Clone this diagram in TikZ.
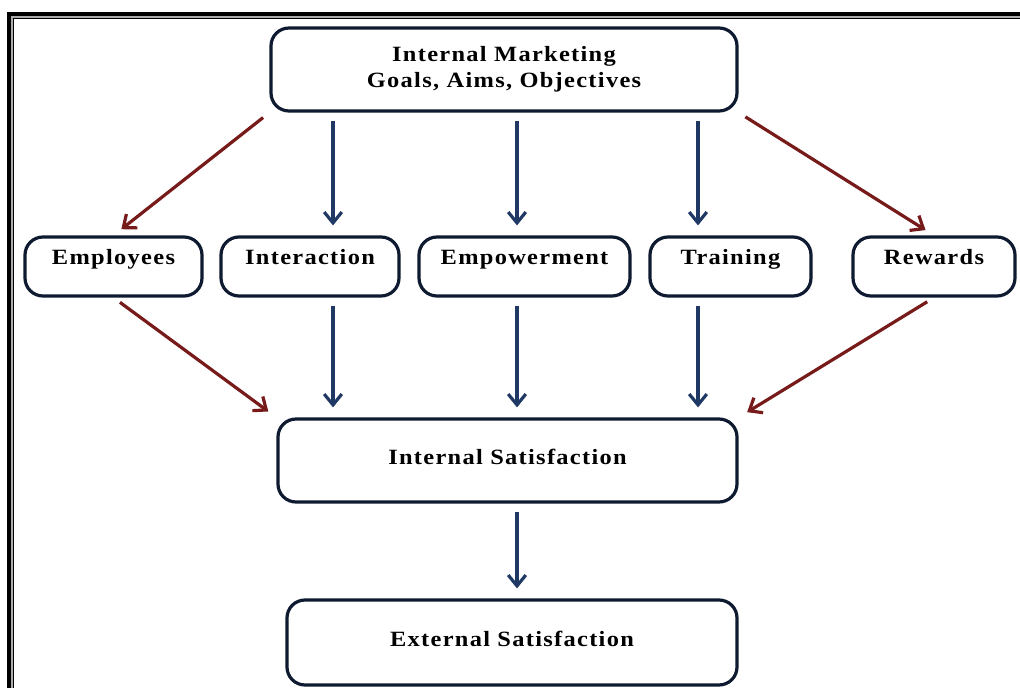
\documentclass[tikz,border=0pt]{standalone}
\usepackage{fontspec}
\setmainfont{Liberation Serif}[LetterSpace=6, FakeStretch=1.12]
\usepackage{xcolor}
\usetikzlibrary{arrows.meta, positioning}

\definecolor{boxline}{HTML}{0E1A30}
\definecolor{arrowblue}{HTML}{1F3864}
\definecolor{arrowred}{HTML}{761A1A}

\begin{document}
\begin{tikzpicture}[x=0.025cm, y=-0.025cm]
			\def\px{0.025cm}
			\def\rowY{266.5}

			\tikzset{
				box/.style = {draw = boxline, line width = 3.2*\px, rounded corners = 18*\px, align = center, font = \fontsize{15.5}{18.5}\selectfont\bfseries},
				smallbox/.style = {box, minimum height = 59*\px, text height = 0.3cm, text depth = 0.42cm},
				widebox/.style = {box, text height = 0.4cm, text depth = 0.2cm},
				link/.style = {line width = 3.2*\px, shorten <= 8*\px, shorten >= 10*\px, -{Straight Barb[length = 0.27cm, width = 0.44cm]}},
			}

			\useasboundingbox (0,0) rectangle (1020,688);

			\begin{scope}
				\draw [line width = 4*\px] (9,14.5) rectangle (1060,720);
				\draw [gray!65, line width = 2*\px] (12,17) rectangle (1060,720);
				\draw [line width = 1.3*\px] (13.8,18.6) rectangle (1060,720);
			\end{scope}

			\node [box, minimum width = 466*\px, minimum height = 83*\px] (goals) at (504,69.5) {Internal Marketing\\Goals, Aims, Objectives};

			\foreach \nm/\cx/\bw/\txt in {employees/113.5/177/Employees, interaction/310/178/Interaction, empowerment/524.5/211/Empowerment, training/730.5/161/Training, rewards/934/162/Rewards}
			{
				\node [smallbox, minimum width = \bw*\px] (\nm) at (\cx,\rowY) {\txt};
			}

			\node [widebox, minimum width = 459*\px, minimum height = 83*\px] (intsat) at (507.5,460.5) {Internal Satisfaction};
			\node [widebox, minimum width = 450*\px, minimum height = 85*\px] (extsat) at (512,642.5) {External Satisfaction};

			\coordinate (colA) at (333,0);
			\coordinate (colB) at (517,0);
			\coordinate (colC) at (698,0);

			\begin{scope}[link, arrowblue]
				\foreach \col/\nm in {colA/interaction, colB/empowerment, colC/training}
				{
					\draw (goals.south -| \col) -- (\nm.north -| \col);
					\draw (\nm.south -| \col) -- (intsat.north -| \col);
				}
				\draw (intsat.south -| colB) -- (extsat.north -| colB);
			\end{scope}

			\begin{scope}[link, arrowred]
				\draw (goals.south west) -- (employees.north);
				\draw (goals.south east) -- (rewards.north);
				\draw (employees.south) -- (intsat.north west);
				\draw (rewards.south) -- (intsat.north east);
			\end{scope}
		\end{tikzpicture}
\end{document}
